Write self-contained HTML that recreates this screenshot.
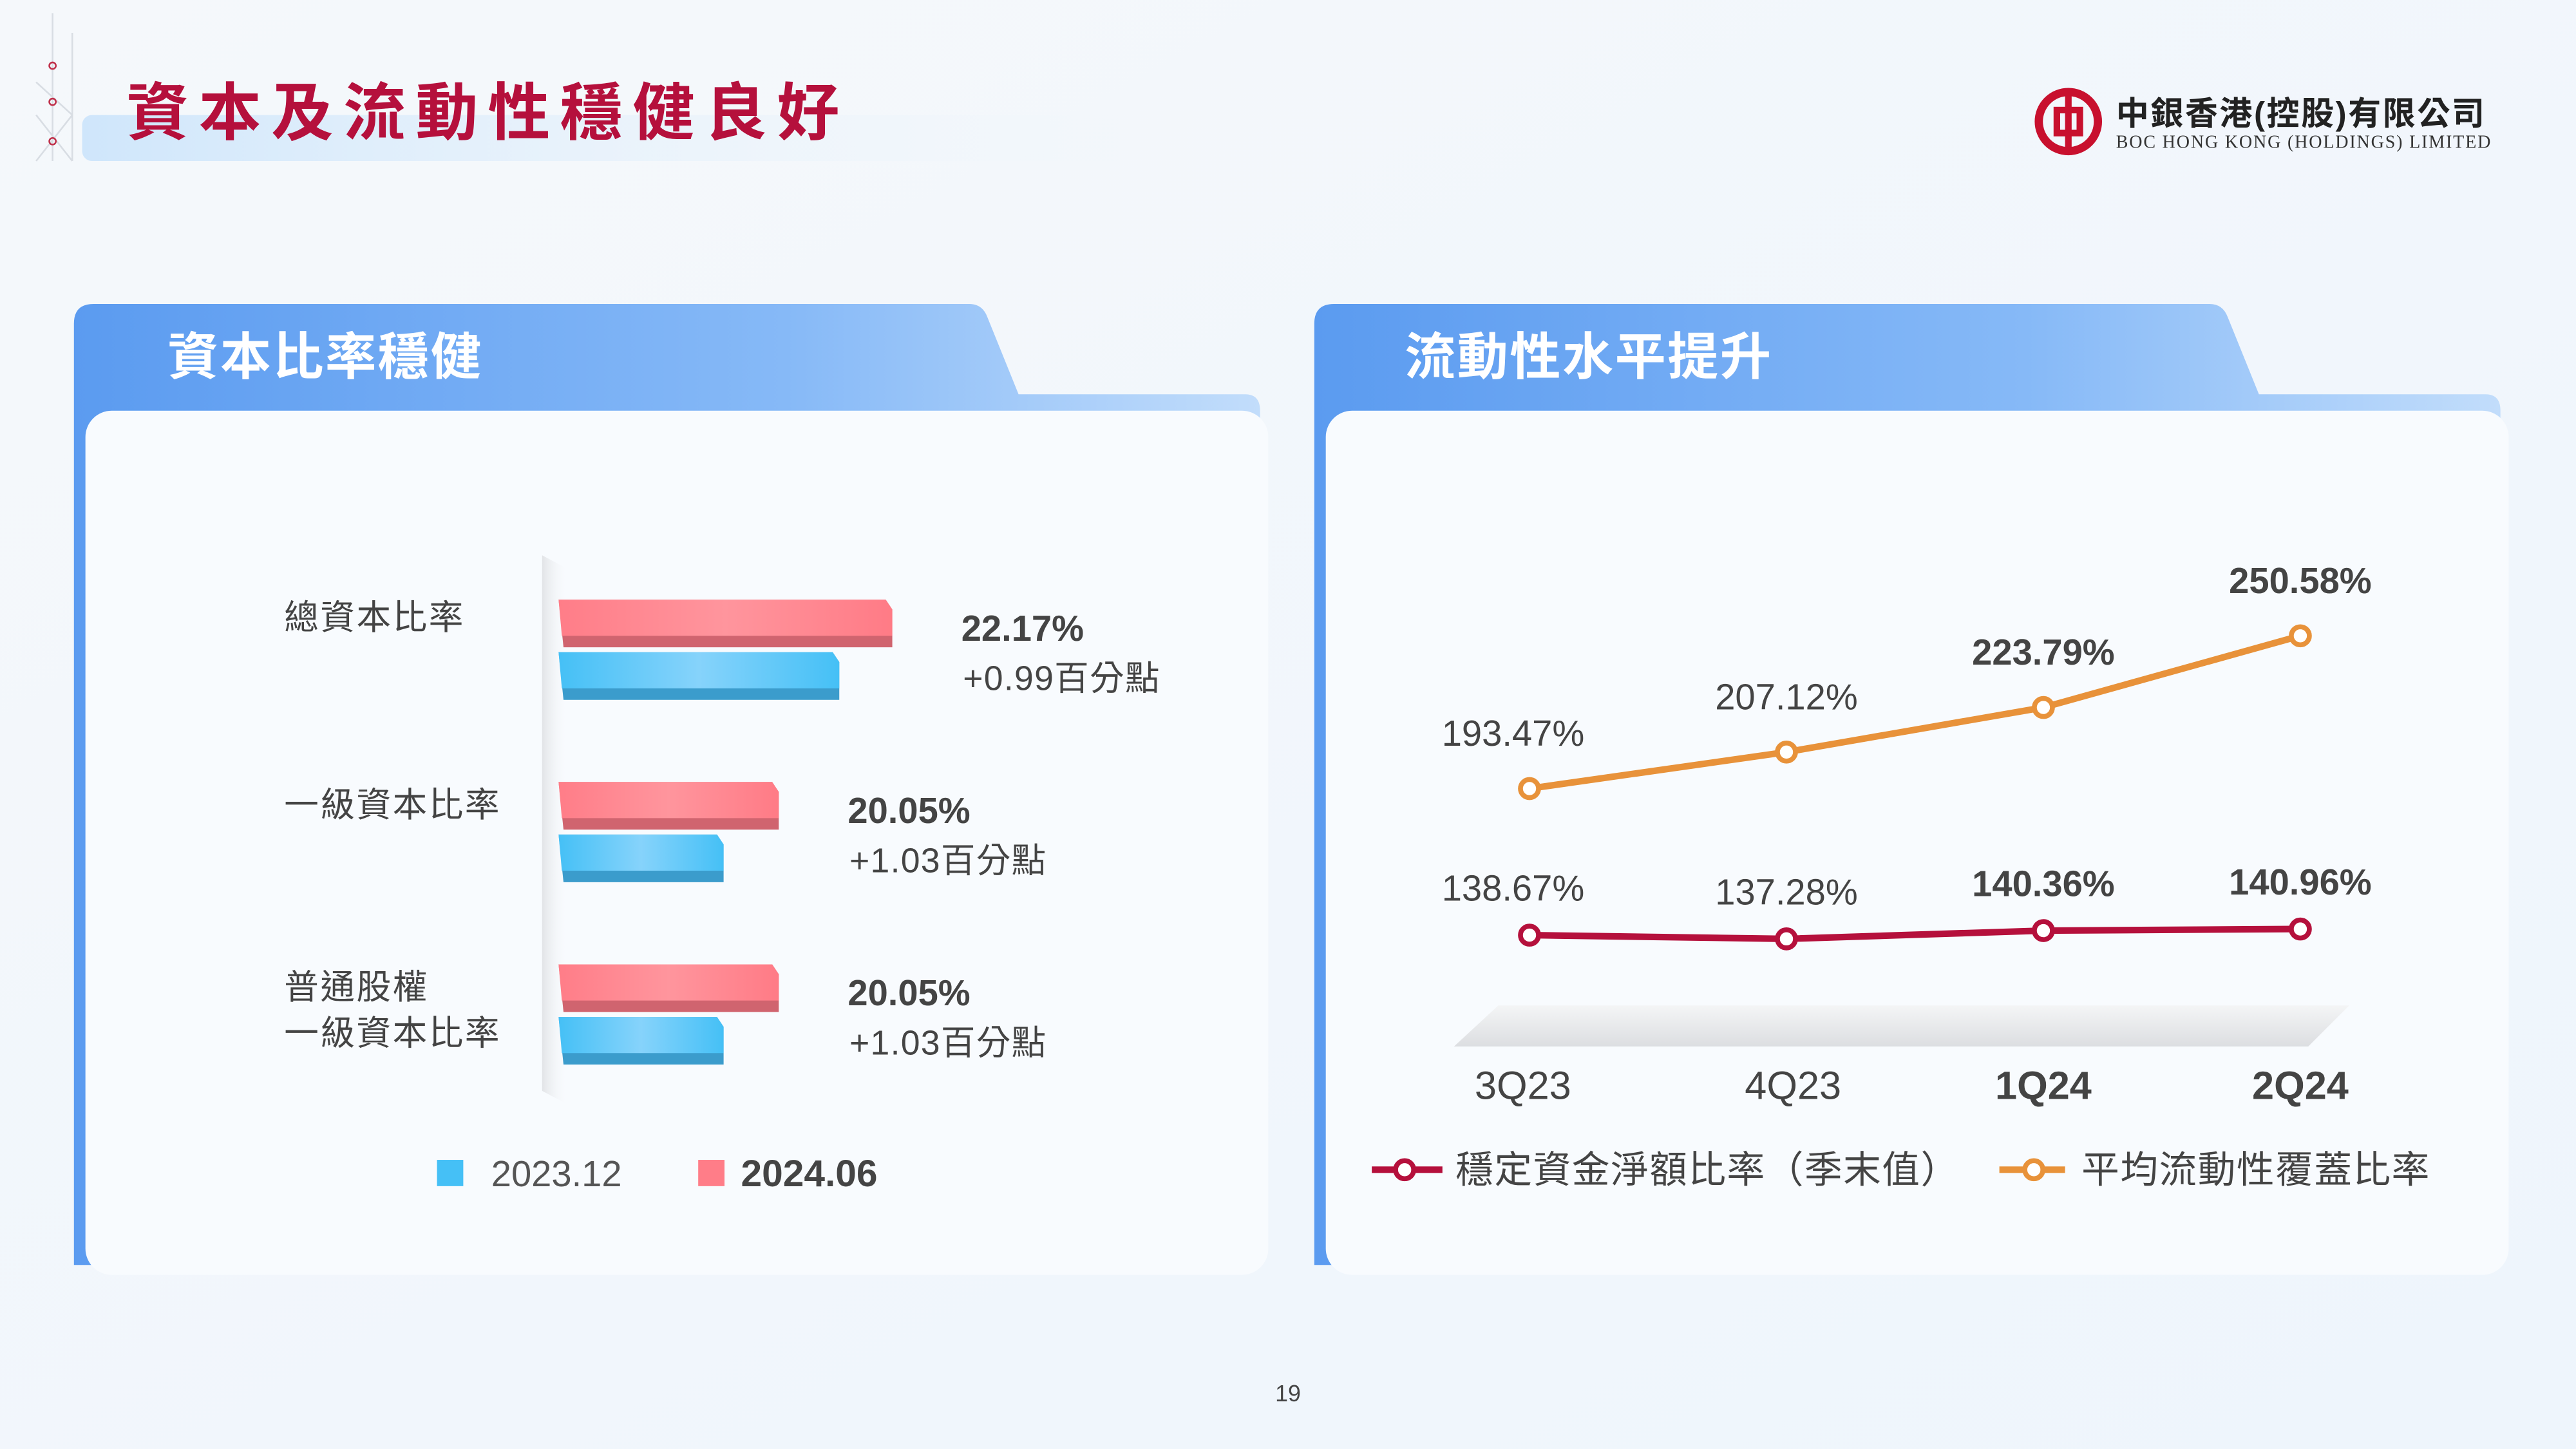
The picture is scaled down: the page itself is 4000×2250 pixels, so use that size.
<!DOCTYPE html>
<html><head><meta charset="utf-8"><style>
html,body{margin:0;padding:0;width:4000px;height:2250px;overflow:hidden;background:#f3f7fb;}
svg{display:block}
text{font-family:"Liberation Sans","Noto Sans CJK TC",sans-serif;}
</style></head><body>
<svg id="root" width="4000" height="2250" viewBox="0 0 1568 882" xmlns="http://www.w3.org/2000/svg">
<defs>
<linearGradient id="bg" x1="0" y1="0" x2="1" y2="1"><stop offset="0" stop-color="#f5f8fb"/><stop offset="1" stop-color="#eef5fc"/></linearGradient>
<linearGradient id="band" x1="0" x2="1"><stop offset="0" stop-color="#cfe6fb"/><stop offset="1" stop-color="#f3f8fc" stop-opacity="0"/></linearGradient>
<linearGradient id="tab" x1="0" x2="1"><stop offset="0" stop-color="#5b9bf0"/><stop offset="0.6" stop-color="#86b9f7"/><stop offset="1" stop-color="#c2ddfb"/></linearGradient>
<linearGradient id="pink" x1="0" x2="1"><stop offset="0" stop-color="#ff7d88"/><stop offset="0.5" stop-color="#ff959d"/><stop offset="1" stop-color="#ff7b86"/></linearGradient>
<linearGradient id="blue" x1="0" x2="1"><stop offset="0" stop-color="#45c0f6"/><stop offset="0.5" stop-color="#86d3fb"/><stop offset="1" stop-color="#45c0f6"/></linearGradient>
<linearGradient id="wall" x1="0" x2="1"><stop offset="0" stop-color="#e2e4e7"/><stop offset="1" stop-color="#f7f9fb" stop-opacity="0"/></linearGradient>
<linearGradient id="floor" x1="0" y1="0" x2="0" y2="1"><stop offset="0" stop-color="#f4f5f6"/><stop offset="1" stop-color="#dcdee1"/></linearGradient>
</defs>
<rect width="1568" height="882" fill="url(#bg)"/>
<rect x="50" y="70" width="690" height="28" rx="6" fill="url(#band)"/>
<g stroke="#d8dde3" stroke-width="1" fill="none">
<path d="M32 8 L32 98 M44 20 L44 98 M22 70 L44 98 M44 70 L22 98 M22 50 L44 70"/>
<circle cx="32" cy="40" r="2" stroke="#c0304a"/><circle cx="32" cy="62" r="2" stroke="#c0304a"/><circle cx="32" cy="86" r="2" stroke="#c0304a"/>
</g>
<text x="77" y="82" font-size="38" font-weight="bold" fill="#b5103c" letter-spacing="6">資本及流動性穩健良好</text>
<g>
<circle cx="1259" cy="74" r="18" fill="none" stroke="#c8102e" stroke-width="5"/>
<rect x="1252" y="67" width="14" height="14" fill="none" stroke="#c8102e" stroke-width="4"/>
<line x1="1259" y1="56" x2="1259" y2="92" stroke="#c8102e" stroke-width="4"/>
<text x="1288" y="76" font-size="20" font-weight="bold" fill="#222" letter-spacing="1">中銀香港(控股)有限公司</text>
<text x="1288" y="90" font-size="11" fill="#333" style="font-family:'Liberation Serif',serif" textLength="228">BOC HONG KONG (HOLDINGS) LIMITED</text>
</g>

<!-- Left panel -->
<g>
<path d="M45 770 L45 197 Q45 185 57 185 L590 185 Q598 185 601 193 L620 240 L758 240 Q767 240 767 250 L767 770 Z" fill="url(#tab)"/>
<rect x="52" y="250" width="720" height="526" rx="16" fill="#f8fbfe"/>
<text x="102" y="228" font-size="31" font-weight="bold" fill="#fff" letter-spacing="1">資本比率穩健</text>
</g>
<g id="barchart">
<polygon points="330,338 345,346 345,672 330,664" fill="url(#wall)"/>
</g>

<!-- Right panel -->
<g>
<path d="M800 770 L800 197 Q800 185 812 185 L1345 185 Q1353 185 1356 193 L1375 240 L1513 240 Q1522 240 1522 250 L1522 770 Z" fill="url(#tab)"/>
<rect x="807" y="250" width="720" height="526" rx="16" fill="#f8fbfe"/>
<text x="855" y="228" font-size="31" font-weight="bold" fill="#fff" letter-spacing="1">流動性水平提升</text>
</g>
<g id="linechart">
<polygon points="912,612 1430,612 1405,637 885,637" fill="url(#floor)"/>
</g>
<g>
<g><line x1="835" y1="712" x2="878" y2="712" stroke="#b5103c" stroke-width="4"/><circle cx="855" cy="712" r="5.5" fill="#fff" stroke="#b5103c" stroke-width="3"/>
<text x="886" y="720" font-size="23" fill="#444" letter-spacing="0.6">穩定資金淨額比率（季末值）</text></g>
<g><line x1="1217" y1="712" x2="1257" y2="712" stroke="#e8923a" stroke-width="4"/><circle cx="1238" cy="712" r="5.5" fill="#fff" stroke="#e8923a" stroke-width="3"/>
<text x="1267" y="720" font-size="23" fill="#444" letter-spacing="0.6">平均流動性覆蓋比率</text></g>
</g>
<g>
<rect x="266" y="706" width="16" height="16" fill="#45c0f6"/>
<text x="299" y="722" font-size="22" fill="#555">2023.12</text>
<rect x="425" y="706" width="16" height="16" fill="#ff7d88"/>
<text x="451" y="722" font-size="23" font-weight="bold" fill="#444">2024.06</text>
</g>
<text x="784" y="853" font-size="14" fill="#444" text-anchor="middle">19</text>
</svg>
<script>
// Bar chart data
const barCategories = [["總資本比率"], ["一級資本比率"], ["普通股權", "一級資本比率"]];
const values2024 = [22.17, 20.05, 20.05];
const values2023 = [21.18, 19.02, 19.02];
const deltaLabels = ["+0.99百分點", "+1.03百分點", "+1.03百分點"];
// Line chart data
const quarters = ["3Q23", "4Q23", "1Q24", "2Q24"];
const lcrValues = [193.47, 207.12, 223.79, 250.58];
const nsfrValues = [138.67, 137.28, 140.36, 140.96];
const boldQuarter = [false, false, true, true];

const NS = "http://www.w3.org/2000/svg";
function mk(tag, attrs, parent, txt) {
  const e = document.createElementNS(NS, tag);
  for (const k in attrs) e.setAttribute(k, attrs[k]);
  if (txt !== undefined) e.textContent = txt;
  parent.appendChild(e);
  return e;
}
// bar axes
const xBar = v => 340 + (v - 16) * 32.6;
const rowY = i => 365 + i * 111;
const bc = document.getElementById('barchart');
barCategories.forEach((cat, i) => {
  const y = rowY(i);
  const lines = cat.length;
  cat.forEach((t, j) => {
    const ty = lines === 1 ? y + 18 + (i === 0 ? 0 : 3) : y + 21 + j * 28;
    const el = mk('text', {x: 173, y: ty, 'font-size': 21, fill: '#444', 'letter-spacing': 1}, bc, t);
    
    
  });
  const series = [[values2024[i], y, '#ff7d88', 'url(#pink)', '#d0646f'], [values2023[i], y + 32, '#45c0f6', 'url(#blue)', '#3b9ccc']];
  series.forEach((s, k) => {
    const x2 = xBar(s[0]);
    const g = mk('g', {}, bc);
    
    
    const yy = s[1];
    mk('polygon', {points: `340,${yy} ${x2-2},${yy} ${x2+2},${yy+6} ${x2+2},${yy+29} 343,${yy+29}`, fill: s[4]}, g);
    mk('polygon', {points: `340,${yy} ${x2-2},${yy} ${x2+2},${yy+6} ${x2+2},${yy+22} 342,${yy+22}`, fill: s[3]}, g);
  });
  const lx = xBar(values2024[i]) + 44;
  const v = mk('text', {x: lx, y: y + 25, 'font-size': 22, 'font-weight': 'bold', fill: '#444'}, bc, values2024[i].toFixed(2) + '%');
  
  
  const d = mk('text', {x: lx + 1, y: y + 55, 'font-size': 21, fill: '#444', 'letter-spacing': 0.5}, bc, deltaLabels[i]);
  
  
});
// line axes
const xQ = i => 931 + i * 156.4;
const yV = v => 480 + (193.47 - v) * 1.628;
const lc = document.getElementById('linechart');
function drawSeries(vals, color, name, off) {
  const pts = vals.map((v, i) => `${xQ(i)},${yV(v)}`).join(' ');
  const pl = mk('polyline', {points: pts, fill: 'none', stroke: color, 'stroke-width': 4, 'stroke-linejoin': 'round'}, lc);
  
  
  vals.forEach((v, i) => {
    const c = mk('circle', {cx: xQ(i), cy: yV(v), r: 5.5, fill: '#fff', stroke: color, 'stroke-width': 3}, lc);
    
    
    const t = mk('text', {x: xQ(i) - (i === 0 ? 10 : 0), y: yV(v) + off, 'font-size': 22, 'text-anchor': 'middle', fill: '#444', 'font-weight': boldQuarter[i] ? 'bold' : 'normal'}, lc, v.toFixed(2) + '%');
    
    
  });
}
drawSeries(lcrValues, '#e8923a', 'lcr', -26);
drawSeries(nsfrValues, '#b5103c', 'nsfr', -21);
quarters.forEach((q, i) => {
  const t = mk('text', {x: xQ(i) + (i === 0 ? -4 : i === 1 ? 4 : 0), y: 669, 'font-size': 24, 'text-anchor': 'middle', fill: '#444', 'font-weight': boldQuarter[i] ? 'bold' : 'normal'}, lc, q);
  
  
});
</script>
</body></html>
